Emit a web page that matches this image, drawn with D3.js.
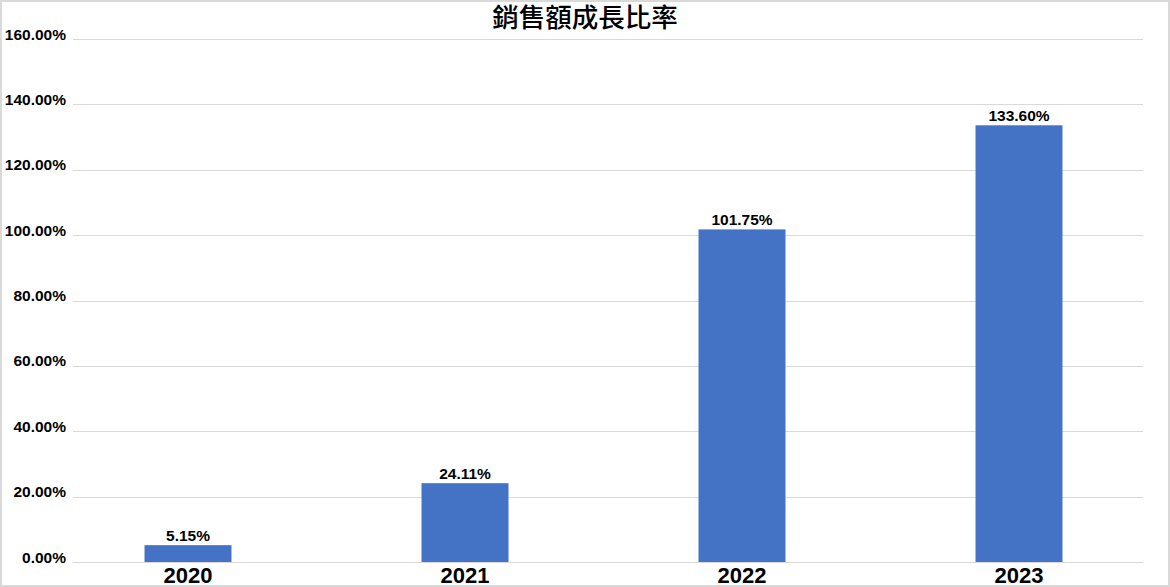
<!DOCTYPE html>
<html>
<head>
<meta charset="utf-8">
<script src="https://cdn.jsdelivr.net/npm/d3@7"></script>
<style>
	body { margin: 0; background: #fff; }
	svg { display: block; }
</style>
</head>
<body>
<div id="chart"></div>
<script>
// chart data
const years = ["2020", "2021", "2022", "2023"];
const growthRates = [0.0515, 0.2411, 1.0175, 1.3360];
const yTicks = [0, 0.2, 0.4, 0.6, 0.8, 1.0, 1.2, 1.4, 1.6];
const chartTitle = "銷售額成長比率";

const W = 1170, H = 587;
const plotLeft = 73, plotRight = 1143, plotTop = 39, plotBottom = 562;

const svg = d3.select("#chart")
	.append("svg")
	.attr("width", W)
	.attr("height", H);

// outer frame
svg.append("rect")
	.attr("x", 1).attr("y", 1)
	.attr("width", W - 2).attr("height", H - 2)
	.attr("fill", "#fff")
	.attr("stroke", "#d9d9d9")
	.attr("stroke-width", 2);

const y = d3.scaleLinear()
	.domain([0, 1.6])
	.range([plotBottom, plotTop]);

const x = d3.scaleBand()
	.domain(years)
	.range([49.5, 1157.5])
	.paddingInner(0.686)
	.paddingOuter(0.343);

// gridlines
svg.append("g")
	.selectAll("line")
	.data(yTicks)
	.join("line")
	.attr("x1", plotLeft)
	.attr("x2", plotRight)
	.attr("y1", d => Math.round(y(d)) + 0.5)
	.attr("y2", d => Math.round(y(d)) + 0.5)
	.attr("stroke", "#d9d9d9")
	.attr("stroke-width", 1);

// y axis labels
const yAxis = d3.axisLeft(y)
	.tickValues(yTicks)
	.tickFormat(d3.format(".2%"))
	.tickSize(0)
	.tickPadding(0);

svg.append("g")
	.attr("transform", "translate(66,0)")
	.call(yAxis)
	.call(g => g.select(".domain").remove())
	.selectAll("text")
	.attr("dy", "0")
	.style("font-family", "Liberation Sans, Arial, sans-serif")
	.style("font-size", "15.5px")
	.style("font-weight", "bold")
	.style("fill", "#000");

// bars
svg.append("g")
	.selectAll("rect")
	.data(years)
	.join("rect")
	.attr("x", d => x(d))
	.attr("y", (d, i) => y(growthRates[i]))
	.attr("width", x.bandwidth())
	.attr("height", (d, i) => y(0) - y(growthRates[i]))
	.attr("fill", "#4472C4");

// value labels
svg.append("g")
	.selectAll("text")
	.data(years)
	.join("text")
	.attr("x", d => x(d) + x.bandwidth() / 2)
	.attr("y", (d, i) => y(growthRates[i]) - 4)
	.attr("text-anchor", "middle")
	.text((d, i) => d3.format(".2%")(growthRates[i]))
	.style("font-family", "Liberation Sans, Arial, sans-serif")
	.style("font-size", "15.5px")
	.style("font-weight", "bold")
	.style("fill", "#000");

// x axis labels
const xAxis = d3.axisBottom(x)
	.tickSize(0)
	.tickPadding(0);

svg.append("g")
	.attr("transform", `translate(0,${plotBottom})`)
	.call(xAxis)
	.call(g => g.select(".domain").remove())
	.selectAll("text")
	.attr("y", 21)
	.attr("dy", "0")
	.style("font-family", "Liberation Sans, Arial, sans-serif")
	.style("font-size", "22px")
	.style("font-weight", "bold")
	.style("fill", "#000");

// title
svg.append("text")
	.attr("x", 585)
	.attr("y", 27)
	.attr("text-anchor", "middle")
	.text(chartTitle)
	.style("font-family", "Noto Sans CJK TC, sans-serif")
	.style("font-size", "26.5px")
	.style("font-weight", "500")
	.style("fill", "#000");
</script>
</body>
</html>
